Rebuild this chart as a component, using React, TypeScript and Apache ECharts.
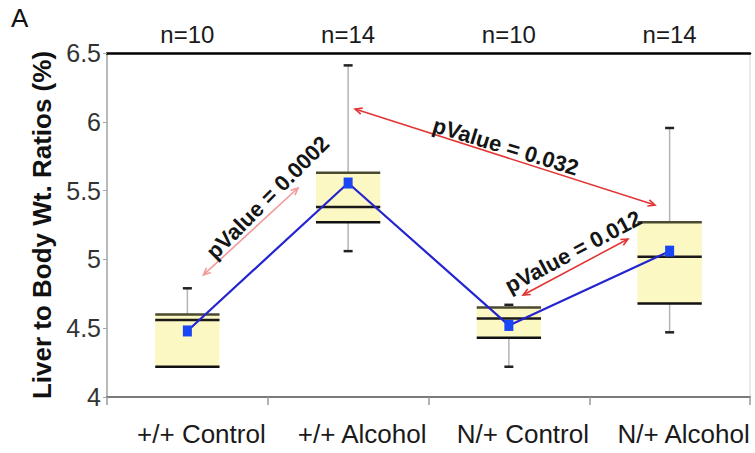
import React, { useEffect, useRef } from 'react';
import * as echarts from 'echarts';

const categories = ['+/+ Control', '+/+ Alcohol', 'N/+ Control', 'N/+ Alcohol'];
const sampleSizes = ['n=10', 'n=14', 'n=10', 'n=14'];
const whiskerLow = [4.22, 5.06, 4.22, 4.47];
const quartile1 = [4.22, 5.27, 4.43, 4.68];
const medians = [4.56, 5.38, 4.57, 5.02];
const quartile3 = [4.6, 5.63, 4.65, 5.27];
const whiskerHigh = [4.79, 6.41, 4.67, 5.955];
const means = [4.48, 5.555, 4.52, 5.06];

const yMin = 4;
const yMax = 6.5;
const yInterval = 0.5;

// annotation arrows, in (category position, value) coordinates
const arrowStarts = [[0.1, 4.887], [1.043, 6.093], [2.088, 4.741]];
const arrowEnds = [[0.688, 5.519], [2.909, 5.395], [2.741, 5.148]];
const pLabels = ['pValue = 0.0002', 'pValue = 0.032', 'pValue = 0.012'];
const pLabelAt = [[0.5, 5.45], [1.98, 5.82], [2.4, 5.055]];
const pLabelAngles = [45, -17, 28];

const FONT = '"Liberation Sans", Arial, Helvetica, sans-serif';
const arrowColors = ['#f29a9a', '#e23636', '#e23636'];

function toPx(api: any, x: number, y: number) {
  const base = Math.max(0, Math.min(2, Math.floor(x)));
  const p0 = api.coord([base, y]);
  const p1 = api.coord([base + 1, y]);
  return [p0[0] + (x - base) * (p1[0] - p0[0]), p0[1]];
}

export default function App() {
  const ref = useRef<HTMLDivElement>(null);
  useEffect(() => {
    if (!ref.current) return;
    const chart = echarts.init(ref.current, undefined, { renderer: 'svg' });

    const boxData = categories.map((_, i) => [
      i, whiskerLow[i], quartile1[i], medians[i], quartile3[i], whiskerHigh[i],
    ]);
    const annData = pLabels.map((_, i) => [
      arrowStarts[i][0], arrowStarts[i][1], arrowEnds[i][0], arrowEnds[i][1],
      pLabelAt[i][0], pLabelAt[i][1], pLabelAngles[i], i,
    ]);

    const option: any = {
      animation: false,
      backgroundColor: '#ffffff',
      textStyle: { fontFamily: FONT },
      grid: {
        left: 107, right: 5, top: 53, bottom: 56,
        show: true, borderColor: '#d4d4d4', borderWidth: 1,
        backgroundColor: 'transparent',
      },
      graphic: [
        {
          type: 'text', left: 11, top: 5,
          style: { text: 'A', fontSize: 26, fontFamily: FONT, fill: '#111' },
        },
      ],
      xAxis: [
        {
          type: 'category',
          data: categories,
          position: 'bottom',
          axisLine: { lineStyle: { color: '#7a7a7a', width: 2 } },
          axisTick: { show: true, interval: 0, length: 8, lineStyle: { color: '#9a9a9a', width: 1.5 } },
          axisLabel: {
            interval: 0,
            hideOverlap: false,
            fontSize: 26, color: '#1a1a1a', margin: 24, fontFamily: FONT,
            padding: [0, 0, 0, 28],
          },
          splitLine: { show: false },
        },
        {
          type: 'category',
          data: sampleSizes,
          position: 'top',
          axisLine: { lineStyle: { color: '#000', width: 2.5 } },
          axisTick: { show: false },
          axisLabel: { interval: 0, fontSize: 24, color: '#1a1a1a', margin: 7, fontFamily: FONT },
          splitLine: { show: false },
        },
      ],
      yAxis: {
        type: 'value',
        min: yMin, max: yMax, interval: yInterval,
        name: 'Liver to Body Wt. Ratios (%)',
        nameLocation: 'middle',
        nameGap: 52,
        nameTextStyle: { fontSize: 26, fontWeight: 'bold', color: '#111', fontFamily: FONT },
        axisLine: { show: true, lineStyle: { color: '#a8a8a8', width: 1.5 } },
        axisTick: { show: true, length: 4, lineStyle: { color: '#a8a8a8' } },
        axisLabel: { fontSize: 25, color: '#333', margin: 6, fontFamily: FONT },
        splitLine: { show: false },
      },
      series: [
        {
          type: 'custom',
          name: 'box',
          xAxisIndex: 0,
          yAxisIndex: 0,
          encode: { x: 0, y: [1, 2, 3, 4, 5] },
          data: boxData,
          z: 2,
          renderItem: (params: any, api: any) => {
            const i = api.value(0);
            const lo = api.coord([i, api.value(1)]);
            const q1 = api.coord([i, api.value(2)]);
            const md = api.coord([i, api.value(3)]);
            const q3 = api.coord([i, api.value(4)]);
            const hi = api.coord([i, api.value(5)]);
            const band = api.size([1, 0])[0];
            const half = band * 0.2;
            const cx = q1[0];
            const cap = 4.5;
            const hline = (y: number, color: string, w: number) => ({
              type: 'line',
              shape: { x1: cx - half, y1: y, x2: cx + half, y2: y },
              style: { stroke: color, lineWidth: w },
            });
            return {
              type: 'group',
              children: [
                {
                  type: 'line',
                  shape: { x1: cx, y1: q3[1], x2: cx, y2: hi[1] },
                  style: { stroke: '#b4b4b4', lineWidth: 1.5 },
                },
                {
                  type: 'line',
                  shape: { x1: cx, y1: q1[1], x2: cx, y2: lo[1] },
                  style: { stroke: '#b4b4b4', lineWidth: 1.5 },
                },
                {
                  type: 'line',
                  shape: { x1: cx - cap, y1: hi[1], x2: cx + cap, y2: hi[1] },
                  style: { stroke: '#222', lineWidth: 2.5 },
                },
                {
                  type: 'line',
                  shape: { x1: cx - cap, y1: lo[1], x2: cx + cap, y2: lo[1] },
                  style: { stroke: '#222', lineWidth: 2.5 },
                },
                {
                  type: 'rect',
                  shape: { x: cx - half, y: q3[1], width: half * 2, height: q1[1] - q3[1] },
                  style: { fill: '#fcf8c4' },
                },
                hline(q3[1], '#4a4a30', 2.5),
                hline(md[1], '#1a1a1a', 2.5),
                hline(q1[1], '#111', 2.5),
              ],
            };
          },
        },
        {
          type: 'line',
          name: 'mean',
          xAxisIndex: 0,
          yAxisIndex: 0,
          data: means,
          z: 4,
          symbol: 'rect',
          symbolSize: [9, 11],
          showSymbol: true,
          lineStyle: { color: '#2424d0', width: 2.2 },
          itemStyle: { color: '#1a46f5' },
        },
        {
          type: 'custom',
          name: 'annotations',
          xAxisIndex: 0,
          yAxisIndex: 0,
          data: annData,
          encode: { x: 0, y: 1 },
          z: 5,
          renderItem: (params: any, api: any) => {
            const p0 = toPx(api, api.value(0), api.value(1));
            const p1 = toPx(api, api.value(2), api.value(3));
            const lp = toPx(api, api.value(4), api.value(5));
            const ang = api.value(6);
            const idx = api.value(7);
            const color = arrowColors[idx];
            const dx = p1[0] - p0[0];
            const dy = p1[1] - p0[1];
            const len = Math.sqrt(dx * dx + dy * dy);
            const ux = dx / len;
            const uy = dy / len;
            const L = 7;
            const W = 3.2;
            const head = (px: number, py: number, sx: number, sy: number) => ({
              type: 'polyline',
              shape: {
                points: [
                  [px - sx * L - sy * W, py - sy * L + sx * W],
                  [px, py],
                  [px - sx * L + sy * W, py - sy * L - sx * W],
                ],
              },
              style: { stroke: color, lineWidth: 1.6, fill: 'none' },
            });
            return {
              type: 'group',
              children: [
                {
                  type: 'line',
                  shape: { x1: p0[0], y1: p0[1], x2: p1[0], y2: p1[1] },
                  style: { stroke: color, lineWidth: 1.6 },
                },
                head(p1[0], p1[1], ux, uy),
                head(p0[0], p0[1], -ux, -uy),
                {
                  type: 'text',
                  x: lp[0],
                  y: lp[1],
                  rotation: (ang * Math.PI) / 180,
                  style: {
                    text: pLabels[idx],
                    fontSize: 22,
                    fontWeight: 'bold',
                    fontFamily: FONT,
                    fill: '#151515',
                    align: 'center',
                    verticalAlign: 'middle',
                  },
                },
              ],
            };
          },
        },
      ],
    };
    chart.setOption(option);
    return () => chart.dispose();
  }, []);
  return (
    <div
      ref={ref}
      style={{ position: 'fixed', left: 0, top: 0, width: 755, height: 453 }}
    />
  );
}
